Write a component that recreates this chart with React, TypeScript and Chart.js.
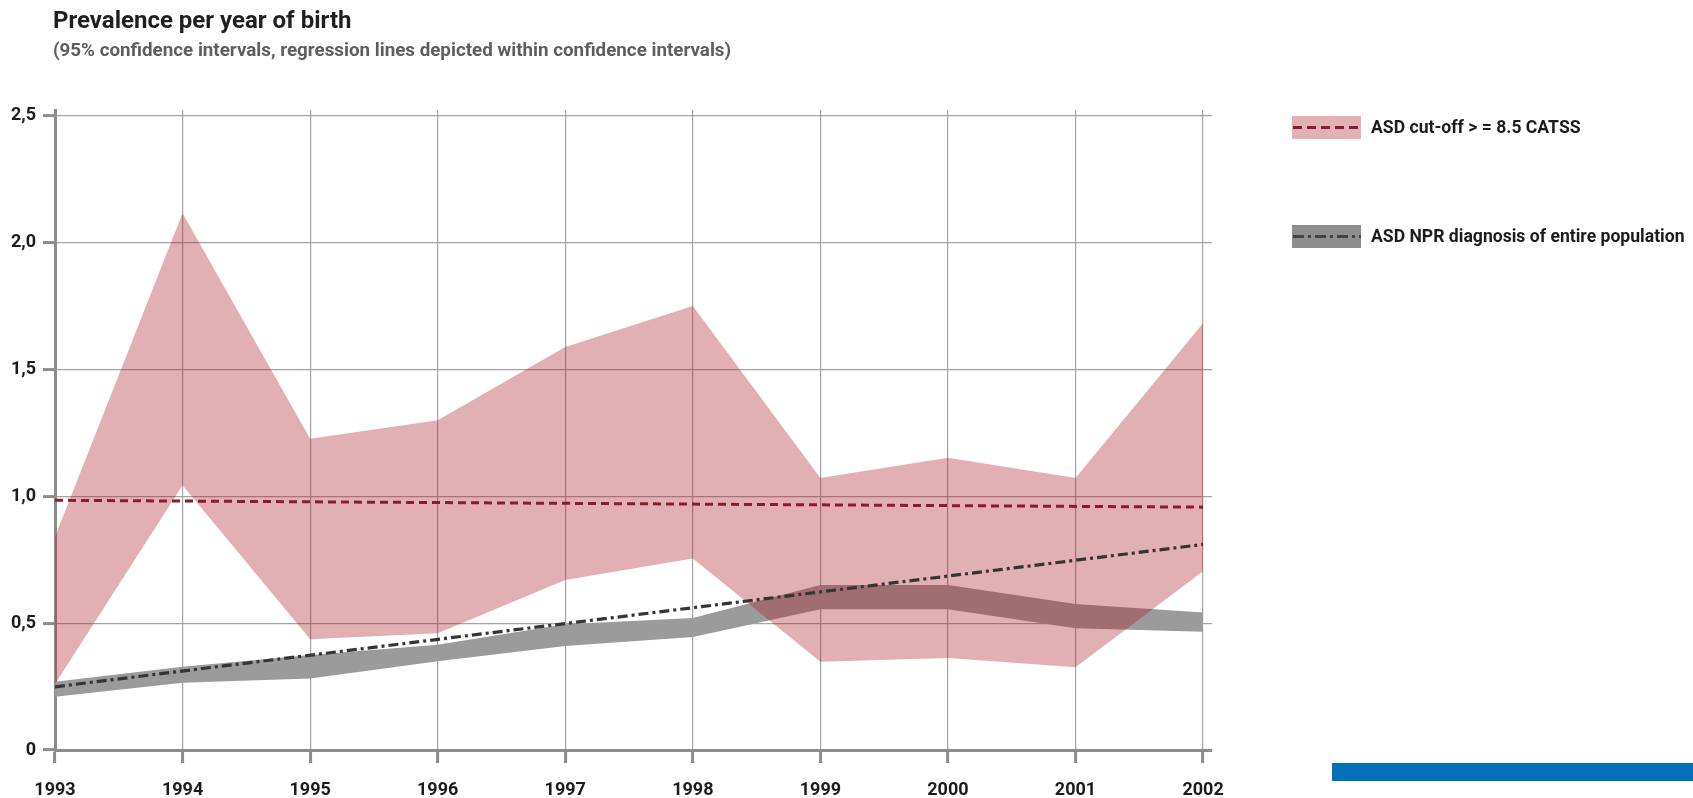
import React, { useEffect, useRef } from 'react';
import { Chart, registerables } from 'chart.js';

Chart.register(...registerables);

// ---------- data ----------
const years = [1993, 1994, 1995, 1996, 1997, 1998, 1999, 2000, 2001, 2002];
const yearLabels = ['1993', '1994', '1995', '1996', '1997', '1998', '1999', '2000', '2001', '2002'];
const yTickValues = [0, 0.5, 1, 1.5, 2, 2.5];
const yTickLabels = ['0', '0,5', '1,0', '1,5', '2,0', '2,5'];

// ASD cut-off >= 8.5 CATSS: 95% CI
const catssUpper = [0.84, 2.115, 1.227, 1.299, 1.588, 1.75, 1.072, 1.152, 1.072, 1.682];
const catssLower = [0.26, 1.043, 0.436, 0.46, 0.67, 0.755, 0.348, 0.363, 0.326, 0.705];
// ASD NPR diagnosis of entire population: 95% CI
const nprUpper = [0.269, 0.328, 0.374, 0.415, 0.496, 0.52, 0.65, 0.65, 0.575, 0.542];
const nprLower = [0.21, 0.265, 0.282, 0.35, 0.41, 0.445, 0.555, 0.555, 0.48, 0.466];
// regression lines (end points)
const regressionYears = [1993, 2002];
const catssRegression = [0.984, 0.957];
const nprRegression = [0.249, 0.81];

const legendLabels = ['ASD cut-off > = 8.5 CATSS', 'ASD NPR diagnosis of entire population'];
const titleText = 'Prevalence per year of birth';
const subtitleText = '(95% confidence intervals, regression lines depicted within confidence intervals)';

const FONT = "Roboto, 'Noto Sans', sans-serif";
const RED = '#8c1b2b';
const PINK_FILL = 'rgba(169,24,36,0.34)';
const GRAY_FILL = '#9b9b9b';
const DARK = '#353535';
const AXIS = '#8c8c8c';
const GRID = '#a5a5a5';

const pts = (xs: number[], ys: number[]) => xs.map((x, i) => ({ x, y: ys[i] }));

export default function App() {
  const ref = useRef<HTMLCanvasElement | null>(null);

  useEffect(() => {
    if (!ref.current) return;
    const band = {
      borderColor: 'transparent',
      borderWidth: 0,
      pointRadius: 0,
      tension: 0,
    };
    const chart = new Chart(ref.current, {
      type: 'line',
      data: {
        datasets: [
          {
            label: legendLabels[0],
            data: pts(regressionYears, catssRegression),
            borderColor: RED,
            borderWidth: 3,
            borderDash: [8, 5],
            pointRadius: 0,
            fill: false,
          },
          {
            label: legendLabels[1],
            data: pts(regressionYears, nprRegression),
            borderColor: DARK,
            borderWidth: 3.2,
            borderDash: [10, 4, 3, 4],
            pointRadius: 0,
            fill: false,
          },
          { ...band, label: 'catssUpper', data: pts(years, catssUpper), fill: '+1', backgroundColor: PINK_FILL },
          { ...band, label: 'catssLower', data: pts(years, catssLower), fill: false },
          { ...band, label: 'nprUpper', data: pts(years, nprUpper), fill: '+1', backgroundColor: GRAY_FILL },
          { ...band, label: 'nprLower', data: pts(years, nprLower), fill: false },
        ] as any,
      },
      options: {
        animation: false,
        responsive: false,
        devicePixelRatio: 1,
        layout: { padding: { top: 110, right: 481, bottom: 0, left: 0 } },
        plugins: {
          legend: { display: false },
          tooltip: { enabled: false },
          title: { display: false },
        },
        scales: {
          x: {
            type: 'linear',
            min: 1993,
            max: 2002.07,
            afterBuildTicks: (s: any) => {
              s.ticks = years.map((v) => ({ value: v }));
            },
            afterFit: (s: any) => {
              s.height = 48;
            },
            ticks: {
              callback: (v: any) => yearLabels[years.indexOf(Number(v))] ?? '',
              font: { family: FONT, size: 18, weight: 'bold' },
              color: '#1c1c1c',
              padding: 17,
              maxRotation: 0,
              autoSkip: false,
            },
            grid: {
              color: GRID,
              lineWidth: 1.2,
              tickLength: 13,
              tickWidth: 3,
              tickColor: AXIS,
            },
            border: { color: AXIS, width: 3 },
          },
          y: {
            type: 'linear',
            min: 0,
            max: 2.522,
            afterBuildTicks: (s: any) => {
              s.ticks = yTickValues.map((v) => ({ value: v }));
            },
            afterFit: (s: any) => {
              s.width = 55;
            },
            ticks: {
              callback: (v: any) => yTickLabels[yTickValues.indexOf(Number(v))] ?? '',
              font: { family: FONT, size: 18, weight: 'bold' },
              color: '#1c1c1c',
              padding: 7,
              autoSkip: false,
            },
            grid: {
              color: GRID,
              lineWidth: 1.2,
              tickLength: 12,
              tickWidth: 3,
              tickColor: AXIS,
            },
            border: { color: AXIS, width: 3 },
          },
        },
      } as any,
    });
    return () => chart.destroy();
  }, []);

  const textBase: React.CSSProperties = {
    position: 'absolute',
    fontFamily: FONT,
    fontWeight: 'bold',
    whiteSpace: 'nowrap',
    lineHeight: 1,
  };

  return (
    <div style={{ position: 'absolute', left: 0, top: 0, width: 1693, height: 798, background: '#fff', overflow: 'hidden' }}>
      <canvas ref={ref} width={1693} height={798} style={{ position: 'absolute', left: 0, top: 0, width: 1693, height: 798 }} />
      <div style={{ ...textBase, left: 53, top: 8, fontSize: 24, color: '#1f1f1f' }}>{titleText}</div>
      <div style={{ ...textBase, left: 53, top: 41, fontSize: 18.8, color: '#5e5e5e' }}>{subtitleText}</div>

      {/* legend */}
      <div style={{ position: 'absolute', left: 1292, top: 116, display: 'flex', alignItems: 'center', height: 23 }}>
        <svg width={69} height={23} style={{ display: 'block' }}>
          <rect x={0} y={0} width={69} height={23} fill="#e2b1b5" />
          <line x1={1} y1={11.5} x2={69} y2={11.5} stroke={RED} strokeWidth={3} strokeDasharray="9 5" />
        </svg>
        <span style={{ fontFamily: FONT, fontWeight: 'bold', fontSize: 17.6, color: '#1c1c1c', marginLeft: 10, whiteSpace: 'nowrap', lineHeight: 1 }}>
          {legendLabels[0]}
        </span>
      </div>
      <div style={{ position: 'absolute', left: 1292, top: 225, display: 'flex', alignItems: 'center', height: 23 }}>
        <svg width={69} height={23} style={{ display: 'block' }}>
          <rect x={0} y={0} width={69} height={23} fill="#8e8e8e" />
          <line x1={1} y1={11.5} x2={69} y2={11.5} stroke="#444" strokeWidth={3} strokeDasharray="11 4 3 4" />
        </svg>
        <span style={{ fontFamily: FONT, fontWeight: 'bold', fontSize: 17.6, color: '#1c1c1c', marginLeft: 10, whiteSpace: 'nowrap', lineHeight: 1 }}>
          {legendLabels[1]}
        </span>
      </div>

      {/* decorative blue bar */}
      <div style={{ position: 'absolute', left: 1332, top: 763, width: 361, height: 18, background: '#0070b8' }} />
    </div>
  );
}
